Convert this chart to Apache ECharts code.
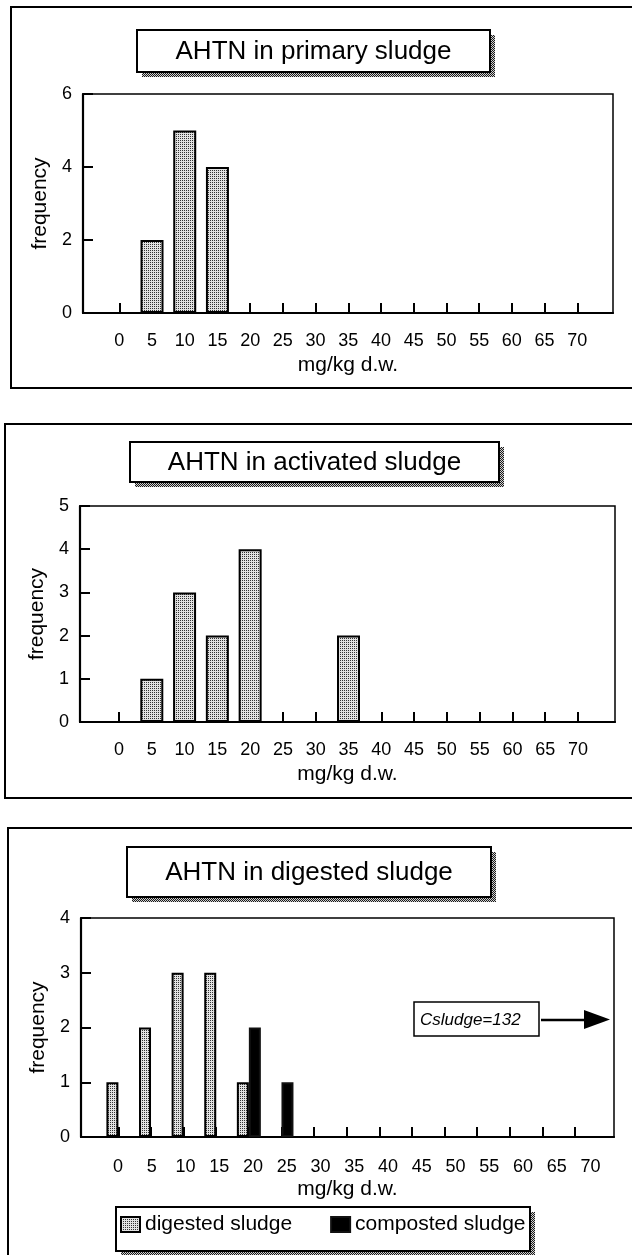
<!DOCTYPE html>
<html>
<head>
<meta charset="utf-8">
<title>AHTN in sewage sludge</title>
<script src="https://cdn.jsdelivr.net/npm/echarts@6/dist/echarts.min.js"></script>
<style>
  html, body { margin: 0; padding: 0; background: #fff; }
  #chart { width: 632px; height: 1255px; }
</style>
</head>
<body>
<div id="chart"></div>
<script>
// Concentration classes (mg/kg d.w.) shared by all three histograms
const xTicks = [0, 5, 10, 15, 20, 25, 30, 35, 40, 45, 50, 55, 60, 65, 70];

// Number of samples per class
const primaryCounts   = [0, 2, 5, 4, 0, 0, 0, 0, 0, 0, 0, 0, 0, 0, 0];
const activatedCounts = [0, 1, 3, 2, 4, 0, 0, 2, 0, 0, 0, 0, 0, 0, 0];
const digestedCounts  = [1, 2, 3, 3, 1, 0, 0, 0, 0, 0, 0, 0, 0, 0, 0];
const compostedCounts = [0, 0, 0, 0, 2, 1, 0, 0, 0, 0, 0, 0, 0, 0, 0];

// Frequency ticks of each panel
const yTicksPrimary   = [0, 2, 4, 6];
const yTicksActivated = [0, 1, 2, 3, 4, 5];
const yTicksDigested  = [0, 1, 2, 3, 4];

const panelTitles = ['AHTN in primary sludge', 'AHTN in activated sludge', 'AHTN in digested sludge'];
const seriesNames = ['digested sludge', 'composted sludge'];
const xName = 'mg/kg d.w.';
const yName = 'frequency';
const offScaleNote = 'Csludge=132';

const FONT = '"Liberation Sans", Arial, Helvetica, sans-serif';

// Small stipple tiles used as fill patterns
function stipple(dark, light) {
  const c = document.createElement('canvas');
  c.width = 2; c.height = 2;
  const g = c.getContext('2d');
  g.fillStyle = light; g.fillRect(0, 0, 2, 2);
  g.fillStyle = dark;  g.fillRect(0, 0, 1, 1);
  return c;
}
function checker(dark, light) {
  const c = document.createElement('canvas');
  c.width = 2; c.height = 2;
  const g = c.getContext('2d');
  g.fillStyle = light; g.fillRect(0, 0, 2, 2);
  g.fillStyle = dark;  g.fillRect(0, 0, 1, 1); g.fillRect(1, 1, 1, 1);
  return c;
}
const barFill = { image: stipple('#333333', '#e2e2e2'), repeat: 'repeat' };
const shadowFill = { image: checker('#1a1a1a', '#d0d0d0'), repeat: 'repeat' };

// Page layout of the three panels
const panels = [
  { frame: { x: 11, y: 7, h: 381 }, box: { x: 137, y: 30, w: 353, h: 42 },
    grid: { left: 83, top: 94, width: 530, height: 219 }, tick0: 119.3, tickEnd: 577.3 },
  { frame: { x: 5, y: 424, h: 374 }, box: { x: 130, y: 442, w: 369, h: 40 },
    grid: { left: 80, top: 506, width: 535, height: 216 }, tick0: 119, tickEnd: 578 },
  { frame: { x: 8, y: 828, h: 500 }, box: { x: 127, y: 847, w: 364, h: 50 },
    grid: { left: 81, top: 918, width: 533, height: 219 }, tick0: 118.4, tickEnd: 575,
    label0: 118, labelEnd: 590.5 }
];

// Axis extent so that the first/last class tick lands at the given pixel
function extentFor(grid, p0, pEnd) {
  const first = xTicks[0], last = xTicks[xTicks.length - 1];
  const ppu = (pEnd - p0) / (last - first);
  return {
    min: first - (p0 - grid.left) / ppu,
    max: last + (grid.left + grid.width - pEnd) / ppu
  };
}

function pairs(counts) {
  return xTicks.map((x, i) => [x, counts[i]]).filter(d => d[1] > 0);
}

const black = '#000';
const grids = [], xAxes = [], yAxes = [], graphics = [];
const yTickSets = [yTicksPrimary, yTicksActivated, yTicksDigested];

panels.forEach((p, i) => {
  grids.push(Object.assign({
    show: true, borderColor: black, borderWidth: 1.5, backgroundColor: 'transparent',
    containLabel: false, outerBoundsMode: 'none'
  }, p.grid));

  const ext = extentFor(p.grid, p.tick0, p.tickEnd);
  const ownLabels = p.label0 === undefined;
  xAxes.push({
    type: 'value', gridIndex: i, position: 'bottom', min: ext.min, max: ext.max,
    axisLine: { show: true, onZero: false, lineStyle: { color: black, width: 2.2 } },
    axisTick: { show: true, inside: true, length: 10, customValues: xTicks,
                lineStyle: { color: black, width: 2 } },
    axisLabel: { show: ownLabels, customValues: xTicks, margin: 19, fontSize: 18,
                 color: black, fontFamily: FONT },
    splitLine: { show: false },
    name: xName, nameLocation: 'middle', nameGap: 42,
    nameTextStyle: { fontSize: 21, color: black, fontFamily: FONT }
  });

  const yt = yTickSets[i];
  yAxes.push({
    type: 'value', gridIndex: i, min: yt[0], max: yt[yt.length - 1],
    axisLine: { show: true, onZero: false, lineStyle: { color: black, width: 2.2 } },
    axisTick: { show: true, inside: true, length: 10, customValues: yt,
                lineStyle: { color: black, width: 2 } },
    axisLabel: { customValues: yt, margin: 11, fontSize: 18, color: black, fontFamily: FONT,
                 showMinLabel: true, showMaxLabel: true },
    splitLine: { show: false },
    name: yName, nameLocation: 'middle', nameGap: 29,
    nameTextStyle: { fontSize: 21, color: black, fontFamily: FONT }
  });

  // panel frame
  graphics.push({ type: 'rect', shape: { x: p.frame.x, y: p.frame.y, width: 700, height: p.frame.h },
                  style: { fill: null, stroke: black, lineWidth: 2 } });
  // title box with its hatched shadow
  graphics.push({ type: 'rect', shape: { x: p.box.x + 5, y: p.box.y + 5, width: p.box.w, height: p.box.h },
                  style: { fill: shadowFill, stroke: null } });
  graphics.push({ type: 'rect', shape: { x: p.box.x, y: p.box.y, width: p.box.w, height: p.box.h },
                  style: { fill: '#fff', stroke: black, lineWidth: 2 } });
  graphics.push({ type: 'text',
                  style: { text: panelTitles[i], x: p.box.x + p.box.w / 2, y: p.box.y + p.box.h / 2 + 1,
                           align: 'center', verticalAlign: 'middle',
                           textAlign: 'center', textVerticalAlign: 'middle',
                           font: '26px ' + FONT, fill: black } });
});

// Separate label scale for the digested-sludge class labels
const p3 = panels[2];
const labelExt = extentFor(p3.grid, p3.label0, p3.labelEnd);
xAxes.push({
  type: 'value', gridIndex: 2, position: 'bottom', min: labelExt.min, max: labelExt.max,
  axisLine: { show: false, onZero: false }, axisTick: { show: false }, splitLine: { show: false },
  axisLabel: { show: true, customValues: xTicks, margin: 21, fontSize: 18, color: black, fontFamily: FONT }
});

// Off-scale note: one digested sludge sample far beyond the axis
graphics.push({ type: 'rect', shape: { x: 414, y: 1002, width: 125, height: 34 },
                style: { fill: '#fff', stroke: black, lineWidth: 1.5 } });
graphics.push({ type: 'text',
                style: { text: offScaleNote, x: 420, y: 1020, align: 'left', verticalAlign: 'middle',
                         textAlign: 'left', textVerticalAlign: 'middle',
                         font: 'italic 17px ' + FONT, fill: black } });
graphics.push({ type: 'line', shape: { x1: 541, y1: 1020, x2: 588, y2: 1020 },
                style: { stroke: black, lineWidth: 2.5 } });
graphics.push({ type: 'polygon', shape: { points: [[584, 1010], [610, 1019.5], [584, 1029]] },
                style: { fill: black } });

// Legend frame with hatched shadow
graphics.push({ type: 'rect', shape: { x: 121, y: 1212, width: 414, height: 44 },
                style: { fill: shadowFill, stroke: null } });
graphics.push({ type: 'rect', shape: { x: 116, y: 1207, width: 414, height: 44 },
                style: { fill: '#fff', stroke: black, lineWidth: 2 } });

const barStyle = { color: barFill, borderColor: black, borderWidth: 2 };

const option = {
  animation: false,
  backgroundColor: '#fff',
  textStyle: { fontFamily: FONT },
  graphic: { elements: graphics },
  grid: grids,
  xAxis: xAxes,
  yAxis: yAxes,
  legend: {
    data: seriesNames, left: 120, top: 1214, padding: 0, orient: 'horizontal',
    icon: 'rect', itemWidth: 19, itemHeight: 15, itemGap: 38,
    textStyle: { fontSize: 21, color: black, fontFamily: FONT },
    selectedMode: false, z: 10
  },
  series: [
    { type: 'bar', name: 'primary sludge', xAxisIndex: 0, yAxisIndex: 0, barWidth: 23,
      data: pairs(primaryCounts), itemStyle: barStyle },
    { type: 'bar', name: 'activated sludge', xAxisIndex: 1, yAxisIndex: 1, barWidth: 23,
      data: pairs(activatedCounts), itemStyle: barStyle },
    { type: 'bar', name: seriesNames[0], xAxisIndex: 2, yAxisIndex: 2, barWidth: 12, barGap: '0%',
      data: pairs(digestedCounts), itemStyle: barStyle },
    { type: 'bar', name: seriesNames[1], xAxisIndex: 2, yAxisIndex: 2, barWidth: 12, barGap: '0%',
      data: pairs(compostedCounts), itemStyle: { color: '#000', borderColor: '#111', borderWidth: 2 } }
  ]
};

const chart = echarts.init(document.getElementById('chart'), null, { renderer: 'canvas' });
chart.setOption(option);
</script>
</body>
</html>
